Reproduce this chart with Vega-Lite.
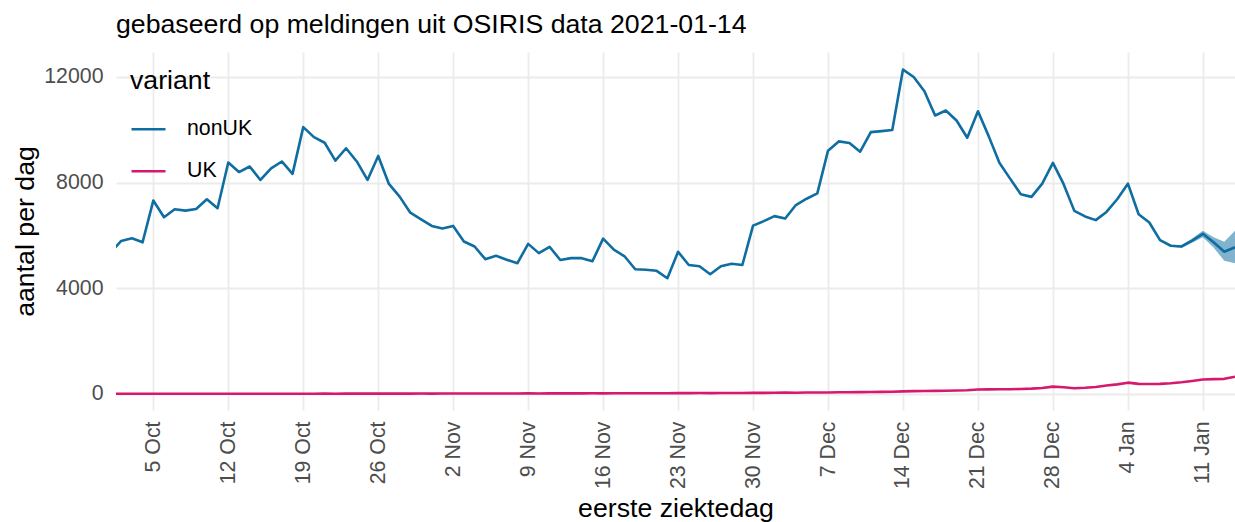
{
  "$schema": "https://vega.github.io/schema/vega-lite/v6.json",
  "autosize": {"type": "none"},
  "padding": {"left": 116, "top": 52, "right": 0, "bottom": 112},
  "width": 1119,
  "height": 358,
  "background": "white",
  "config": {
    "font": "Liberation Sans",
    "view": {"stroke": null},
    "axis": {
      "labelFont": "Liberation Sans",
      "titleFont": "Liberation Sans",
      "labelFontSize": 21.3,
      "labelColor": "#4D4D4D",
      "titleFontSize": 26.7,
      "titleFontWeight": "normal",
      "titleColor": "#000000",
      "ticks": false,
      "tickSize": 0,
      "domain": false,
      "grid": true,
      "gridColor": "#EBEBEB",
      "gridWidth": 1.8,
      "labelOverlap": false,
      "labelBound": false,
      "labelFlush": false
    }
  },
  "title": {
    "text": "gebaseerd op meldingen uit OSIRIS data 2021-01-14",
    "anchor": "start",
    "frame": "group",
    "font": "Liberation Sans",
    "fontSize": 26.7,
    "fontWeight": "normal",
    "color": "#000000",
    "baseline": "top",
    "offset": 13
  },
  "datasets": {
    "lines": [
      {"date": "2020-10-01", "variant": "nonUK", "value": 5350},
      {"date": "2020-10-02", "variant": "nonUK", "value": 5790},
      {"date": "2020-10-03", "variant": "nonUK", "value": 5890},
      {"date": "2020-10-04", "variant": "nonUK", "value": 5740},
      {"date": "2020-10-05", "variant": "nonUK", "value": 7320},
      {"date": "2020-10-06", "variant": "nonUK", "value": 6690},
      {"date": "2020-10-07", "variant": "nonUK", "value": 6990},
      {"date": "2020-10-08", "variant": "nonUK", "value": 6940},
      {"date": "2020-10-09", "variant": "nonUK", "value": 7000},
      {"date": "2020-10-10", "variant": "nonUK", "value": 7370},
      {"date": "2020-10-11", "variant": "nonUK", "value": 7030},
      {"date": "2020-10-12", "variant": "nonUK", "value": 8760},
      {"date": "2020-10-13", "variant": "nonUK", "value": 8400},
      {"date": "2020-10-14", "variant": "nonUK", "value": 8610},
      {"date": "2020-10-15", "variant": "nonUK", "value": 8100},
      {"date": "2020-10-16", "variant": "nonUK", "value": 8540},
      {"date": "2020-10-17", "variant": "nonUK", "value": 8800},
      {"date": "2020-10-18", "variant": "nonUK", "value": 8330},
      {"date": "2020-10-19", "variant": "nonUK", "value": 10100},
      {"date": "2020-10-20", "variant": "nonUK", "value": 9720},
      {"date": "2020-10-21", "variant": "nonUK", "value": 9510},
      {"date": "2020-10-22", "variant": "nonUK", "value": 8830},
      {"date": "2020-10-23", "variant": "nonUK", "value": 9300},
      {"date": "2020-10-24", "variant": "nonUK", "value": 8800},
      {"date": "2020-10-25", "variant": "nonUK", "value": 8100},
      {"date": "2020-10-26", "variant": "nonUK", "value": 9010},
      {"date": "2020-10-27", "variant": "nonUK", "value": 7950},
      {"date": "2020-10-28", "variant": "nonUK", "value": 7470},
      {"date": "2020-10-29", "variant": "nonUK", "value": 6860},
      {"date": "2020-10-30", "variant": "nonUK", "value": 6610},
      {"date": "2020-10-31", "variant": "nonUK", "value": 6360},
      {"date": "2020-11-01", "variant": "nonUK", "value": 6260},
      {"date": "2020-11-02", "variant": "nonUK", "value": 6360},
      {"date": "2020-11-03", "variant": "nonUK", "value": 5770},
      {"date": "2020-11-04", "variant": "nonUK", "value": 5580},
      {"date": "2020-11-05", "variant": "nonUK", "value": 5100},
      {"date": "2020-11-06", "variant": "nonUK", "value": 5230},
      {"date": "2020-11-07", "variant": "nonUK", "value": 5080},
      {"date": "2020-11-08", "variant": "nonUK", "value": 4950},
      {"date": "2020-11-09", "variant": "nonUK", "value": 5680},
      {"date": "2020-11-10", "variant": "nonUK", "value": 5330},
      {"date": "2020-11-11", "variant": "nonUK", "value": 5570},
      {"date": "2020-11-12", "variant": "nonUK", "value": 5070},
      {"date": "2020-11-13", "variant": "nonUK", "value": 5140},
      {"date": "2020-11-14", "variant": "nonUK", "value": 5140},
      {"date": "2020-11-15", "variant": "nonUK", "value": 5020},
      {"date": "2020-11-16", "variant": "nonUK", "value": 5880},
      {"date": "2020-11-17", "variant": "nonUK", "value": 5460},
      {"date": "2020-11-18", "variant": "nonUK", "value": 5210},
      {"date": "2020-11-19", "variant": "nonUK", "value": 4720},
      {"date": "2020-11-20", "variant": "nonUK", "value": 4700},
      {"date": "2020-11-21", "variant": "nonUK", "value": 4660},
      {"date": "2020-11-22", "variant": "nonUK", "value": 4380},
      {"date": "2020-11-23", "variant": "nonUK", "value": 5380},
      {"date": "2020-11-24", "variant": "nonUK", "value": 4880},
      {"date": "2020-11-25", "variant": "nonUK", "value": 4830},
      {"date": "2020-11-26", "variant": "nonUK", "value": 4530},
      {"date": "2020-11-27", "variant": "nonUK", "value": 4830},
      {"date": "2020-11-28", "variant": "nonUK", "value": 4930},
      {"date": "2020-11-29", "variant": "nonUK", "value": 4880},
      {"date": "2020-11-30", "variant": "nonUK", "value": 6370},
      {"date": "2020-12-01", "variant": "nonUK", "value": 6540},
      {"date": "2020-12-02", "variant": "nonUK", "value": 6730},
      {"date": "2020-12-03", "variant": "nonUK", "value": 6640},
      {"date": "2020-12-04", "variant": "nonUK", "value": 7150},
      {"date": "2020-12-05", "variant": "nonUK", "value": 7390},
      {"date": "2020-12-06", "variant": "nonUK", "value": 7590},
      {"date": "2020-12-07", "variant": "nonUK", "value": 9210},
      {"date": "2020-12-08", "variant": "nonUK", "value": 9560},
      {"date": "2020-12-09", "variant": "nonUK", "value": 9500},
      {"date": "2020-12-10", "variant": "nonUK", "value": 9170},
      {"date": "2020-12-11", "variant": "nonUK", "value": 9910},
      {"date": "2020-12-12", "variant": "nonUK", "value": 9950},
      {"date": "2020-12-13", "variant": "nonUK", "value": 9990},
      {"date": "2020-12-14", "variant": "nonUK", "value": 12280},
      {"date": "2020-12-15", "variant": "nonUK", "value": 12000},
      {"date": "2020-12-16", "variant": "nonUK", "value": 11460},
      {"date": "2020-12-17", "variant": "nonUK", "value": 10540},
      {"date": "2020-12-18", "variant": "nonUK", "value": 10730},
      {"date": "2020-12-19", "variant": "nonUK", "value": 10350},
      {"date": "2020-12-20", "variant": "nonUK", "value": 9700},
      {"date": "2020-12-21", "variant": "nonUK", "value": 10700},
      {"date": "2020-12-22", "variant": "nonUK", "value": 9760},
      {"date": "2020-12-23", "variant": "nonUK", "value": 8750},
      {"date": "2020-12-24", "variant": "nonUK", "value": 8150},
      {"date": "2020-12-25", "variant": "nonUK", "value": 7560},
      {"date": "2020-12-26", "variant": "nonUK", "value": 7460},
      {"date": "2020-12-27", "variant": "nonUK", "value": 7960},
      {"date": "2020-12-28", "variant": "nonUK", "value": 8750},
      {"date": "2020-12-29", "variant": "nonUK", "value": 7940},
      {"date": "2020-12-30", "variant": "nonUK", "value": 6930},
      {"date": "2020-12-31", "variant": "nonUK", "value": 6720},
      {"date": "2021-01-01", "variant": "nonUK", "value": 6580},
      {"date": "2021-01-02", "variant": "nonUK", "value": 6890},
      {"date": "2021-01-03", "variant": "nonUK", "value": 7370},
      {"date": "2021-01-04", "variant": "nonUK", "value": 7960},
      {"date": "2021-01-05", "variant": "nonUK", "value": 6800},
      {"date": "2021-01-06", "variant": "nonUK", "value": 6490},
      {"date": "2021-01-07", "variant": "nonUK", "value": 5820},
      {"date": "2021-01-08", "variant": "nonUK", "value": 5610},
      {"date": "2021-01-09", "variant": "nonUK", "value": 5580},
      {"date": "2021-01-10", "variant": "nonUK", "value": 5800},
      {"date": "2021-01-11", "variant": "nonUK", "value": 6060},
      {"date": "2021-01-12", "variant": "nonUK", "value": 5740},
      {"date": "2021-01-13", "variant": "nonUK", "value": 5380},
      {"date": "2021-01-14", "variant": "nonUK", "value": 5550},
      {"date": "2020-10-01", "variant": "UK", "value": 4},
      {"date": "2020-10-02", "variant": "UK", "value": 5},
      {"date": "2020-10-03", "variant": "UK", "value": 4},
      {"date": "2020-10-04", "variant": "UK", "value": 5},
      {"date": "2020-10-05", "variant": "UK", "value": 6},
      {"date": "2020-10-06", "variant": "UK", "value": 5},
      {"date": "2020-10-07", "variant": "UK", "value": 5},
      {"date": "2020-10-08", "variant": "UK", "value": 6},
      {"date": "2020-10-09", "variant": "UK", "value": 5},
      {"date": "2020-10-10", "variant": "UK", "value": 6},
      {"date": "2020-10-11", "variant": "UK", "value": 7},
      {"date": "2020-10-12", "variant": "UK", "value": 6},
      {"date": "2020-10-13", "variant": "UK", "value": 6},
      {"date": "2020-10-14", "variant": "UK", "value": 7},
      {"date": "2020-10-15", "variant": "UK", "value": 7},
      {"date": "2020-10-16", "variant": "UK", "value": 6},
      {"date": "2020-10-17", "variant": "UK", "value": 8},
      {"date": "2020-10-18", "variant": "UK", "value": 7},
      {"date": "2020-10-19", "variant": "UK", "value": 8},
      {"date": "2020-10-20", "variant": "UK", "value": 8},
      {"date": "2020-10-21", "variant": "UK", "value": 9},
      {"date": "2020-10-22", "variant": "UK", "value": 8},
      {"date": "2020-10-23", "variant": "UK", "value": 9},
      {"date": "2020-10-24", "variant": "UK", "value": 10},
      {"date": "2020-10-25", "variant": "UK", "value": 9},
      {"date": "2020-10-26", "variant": "UK", "value": 10},
      {"date": "2020-10-27", "variant": "UK", "value": 11},
      {"date": "2020-10-28", "variant": "UK", "value": 10},
      {"date": "2020-10-29", "variant": "UK", "value": 11},
      {"date": "2020-10-30", "variant": "UK", "value": 12},
      {"date": "2020-10-31", "variant": "UK", "value": 11},
      {"date": "2020-11-01", "variant": "UK", "value": 12},
      {"date": "2020-11-02", "variant": "UK", "value": 13},
      {"date": "2020-11-03", "variant": "UK", "value": 14},
      {"date": "2020-11-04", "variant": "UK", "value": 13},
      {"date": "2020-11-05", "variant": "UK", "value": 15},
      {"date": "2020-11-06", "variant": "UK", "value": 16},
      {"date": "2020-11-07", "variant": "UK", "value": 15},
      {"date": "2020-11-08", "variant": "UK", "value": 17},
      {"date": "2020-11-09", "variant": "UK", "value": 18},
      {"date": "2020-11-10", "variant": "UK", "value": 17},
      {"date": "2020-11-11", "variant": "UK", "value": 19},
      {"date": "2020-11-12", "variant": "UK", "value": 20},
      {"date": "2020-11-13", "variant": "UK", "value": 19},
      {"date": "2020-11-14", "variant": "UK", "value": 21},
      {"date": "2020-11-15", "variant": "UK", "value": 22},
      {"date": "2020-11-16", "variant": "UK", "value": 21},
      {"date": "2020-11-17", "variant": "UK", "value": 23},
      {"date": "2020-11-18", "variant": "UK", "value": 25},
      {"date": "2020-11-19", "variant": "UK", "value": 24},
      {"date": "2020-11-20", "variant": "UK", "value": 26},
      {"date": "2020-11-21", "variant": "UK", "value": 27},
      {"date": "2020-11-22", "variant": "UK", "value": 26},
      {"date": "2020-11-23", "variant": "UK", "value": 28},
      {"date": "2020-11-24", "variant": "UK", "value": 30},
      {"date": "2020-11-25", "variant": "UK", "value": 31},
      {"date": "2020-11-26", "variant": "UK", "value": 30},
      {"date": "2020-11-27", "variant": "UK", "value": 33},
      {"date": "2020-11-28", "variant": "UK", "value": 35},
      {"date": "2020-11-29", "variant": "UK", "value": 34},
      {"date": "2020-11-30", "variant": "UK", "value": 38},
      {"date": "2020-12-01", "variant": "UK", "value": 40},
      {"date": "2020-12-02", "variant": "UK", "value": 44},
      {"date": "2020-12-03", "variant": "UK", "value": 46},
      {"date": "2020-12-04", "variant": "UK", "value": 45},
      {"date": "2020-12-05", "variant": "UK", "value": 50},
      {"date": "2020-12-06", "variant": "UK", "value": 52},
      {"date": "2020-12-07", "variant": "UK", "value": 55},
      {"date": "2020-12-08", "variant": "UK", "value": 60},
      {"date": "2020-12-09", "variant": "UK", "value": 63},
      {"date": "2020-12-10", "variant": "UK", "value": 66},
      {"date": "2020-12-11", "variant": "UK", "value": 70},
      {"date": "2020-12-12", "variant": "UK", "value": 75},
      {"date": "2020-12-13", "variant": "UK", "value": 80},
      {"date": "2020-12-14", "variant": "UK", "value": 95},
      {"date": "2020-12-15", "variant": "UK", "value": 105},
      {"date": "2020-12-16", "variant": "UK", "value": 110},
      {"date": "2020-12-17", "variant": "UK", "value": 115},
      {"date": "2020-12-18", "variant": "UK", "value": 120},
      {"date": "2020-12-19", "variant": "UK", "value": 130},
      {"date": "2020-12-20", "variant": "UK", "value": 140},
      {"date": "2020-12-21", "variant": "UK", "value": 165},
      {"date": "2020-12-22", "variant": "UK", "value": 170},
      {"date": "2020-12-23", "variant": "UK", "value": 175},
      {"date": "2020-12-24", "variant": "UK", "value": 178},
      {"date": "2020-12-25", "variant": "UK", "value": 185},
      {"date": "2020-12-26", "variant": "UK", "value": 200},
      {"date": "2020-12-27", "variant": "UK", "value": 225},
      {"date": "2020-12-28", "variant": "UK", "value": 275},
      {"date": "2020-12-29", "variant": "UK", "value": 250},
      {"date": "2020-12-30", "variant": "UK", "value": 215},
      {"date": "2020-12-31", "variant": "UK", "value": 230},
      {"date": "2021-01-01", "variant": "UK", "value": 260},
      {"date": "2021-01-02", "variant": "UK", "value": 320},
      {"date": "2021-01-03", "variant": "UK", "value": 360},
      {"date": "2021-01-04", "variant": "UK", "value": 425},
      {"date": "2021-01-05", "variant": "UK", "value": 380},
      {"date": "2021-01-06", "variant": "UK", "value": 375},
      {"date": "2021-01-07", "variant": "UK", "value": 380},
      {"date": "2021-01-08", "variant": "UK", "value": 400},
      {"date": "2021-01-09", "variant": "UK", "value": 440},
      {"date": "2021-01-10", "variant": "UK", "value": 490},
      {"date": "2021-01-11", "variant": "UK", "value": 545},
      {"date": "2021-01-12", "variant": "UK", "value": 560},
      {"date": "2021-01-13", "variant": "UK", "value": 570},
      {"date": "2021-01-14", "variant": "UK", "value": 650}
    ],
    "band": [
      {"date": "2021-01-07", "lo": 5790, "hi": 5850},
      {"date": "2021-01-08", "lo": 5570, "hi": 5650},
      {"date": "2021-01-09", "lo": 5530, "hi": 5630},
      {"date": "2021-01-10", "lo": 5720, "hi": 5880},
      {"date": "2021-01-11", "lo": 5930, "hi": 6180},
      {"date": "2021-01-12", "lo": 5540, "hi": 5930},
      {"date": "2021-01-13", "lo": 5040, "hi": 5760},
      {"date": "2021-01-14", "lo": 4950, "hi": 6180}
    ]
  },
  "encoding": {
    "x": {
      "field": "date",
      "type": "temporal",
      "scale": {
        "type": "utc",
        "domain": [
          {"year": 2020, "month": 10, "date": 1, "hours": 12, "minutes": 24, "utc": true},
          {"year": 2021, "month": 1, "date": 14, "utc": true}
        ]
      },
      "axis": {
        "title": "eerste ziektedag",
        "labelExpr": "utcFormat(datum.value, '%-d %b')",
        "labelAngle": -90,
        "labelPadding": 11,
        "titlePadding": 7,
        "values": [
          {"year": 2020, "month": 10, "date": 5, "utc": true},
          {"year": 2020, "month": 10, "date": 12, "utc": true},
          {"year": 2020, "month": 10, "date": 19, "utc": true},
          {"year": 2020, "month": 10, "date": 26, "utc": true},
          {"year": 2020, "month": 11, "date": 2, "utc": true},
          {"year": 2020, "month": 11, "date": 9, "utc": true},
          {"year": 2020, "month": 11, "date": 16, "utc": true},
          {"year": 2020, "month": 11, "date": 23, "utc": true},
          {"year": 2020, "month": 11, "date": 30, "utc": true},
          {"year": 2020, "month": 12, "date": 7, "utc": true},
          {"year": 2020, "month": 12, "date": 14, "utc": true},
          {"year": 2020, "month": 12, "date": 21, "utc": true},
          {"year": 2020, "month": 12, "date": 28, "utc": true},
          {"year": 2021, "month": 1, "date": 4, "utc": true},
          {"year": 2021, "month": 1, "date": 11, "utc": true}
        ]
      }
    }
  },
  "layer": [
    {
      "data": {"name": "band"},
      "mark": {"type": "area", "color": "#1A72A6", "opacity": 0.55, "clip": true},
      "encoding": {
        "y": {"field": "lo", "type": "quantitative"},
        "y2": {"field": "hi"}
      }
    },
    {
      "data": {"name": "lines"},
      "mark": {"type": "line", "strokeWidth": 2.6, "clip": true, "strokeJoin": "round"},
      "encoding": {
        "y": {
          "field": "value",
          "type": "quantitative",
          "scale": {"domain": [-610, 12945], "nice": false, "zero": false},
          "axis": {
            "title": "aantal per dag",
            "values": [0, 4000, 8000, 12000],
            "format": "d",
            "labelPadding": 13,
            "titlePadding": 4
          }
        },
        "color": {
          "field": "variant",
          "type": "nominal",
          "scale": {"domain": ["nonUK", "UK"], "range": ["#0E6DA1", "#D6186F"]},
          "legend": {
            "title": "variant",
            "orient": "none",
            "legendX": 14,
            "legendY": 16,
            "titleFont": "Liberation Sans",
            "titleFontSize": 26.7,
            "titleFontWeight": "normal",
            "titleColor": "#000000",
            "titlePadding": 16,
            "labelFont": "Liberation Sans",
            "labelFontSize": 21.3,
            "labelColor": "#000000",
            "labelOffset": 20,
            "symbolType": "stroke",
            "symbolSize": 1156,
            "symbolStrokeWidth": 2.6,
            "rowPadding": 13
          }
        }
      }
    }
  ]
}
